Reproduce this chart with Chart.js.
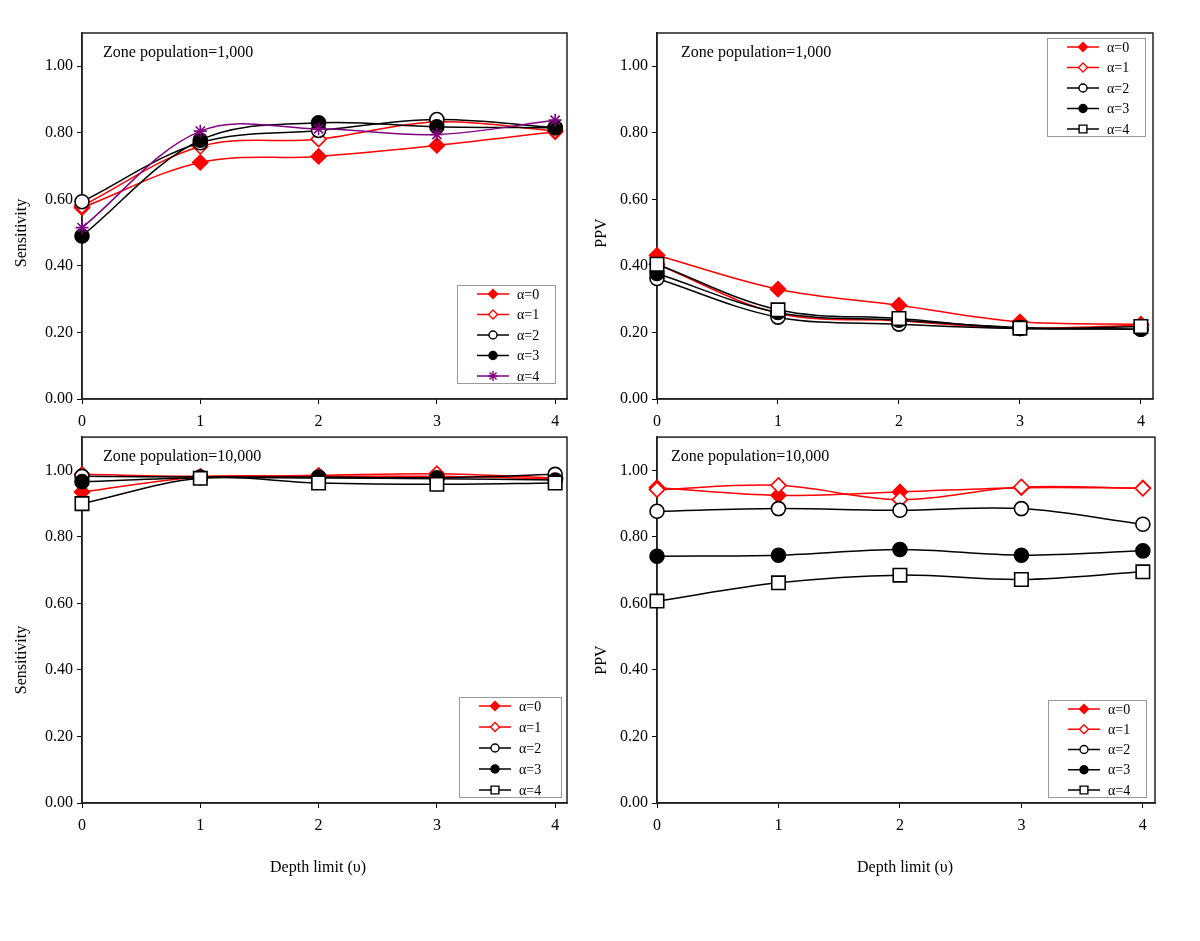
<!DOCTYPE html>
<html>
<head>
<meta charset="utf-8">
<script src="https://cdn.jsdelivr.net/npm/chart.js@4.4.1/dist/chart.umd.min.js"></script>
<style>
html,body{margin:0;padding:0;background:#fff;}
#wrap{position:relative;width:1200px;height:941px;overflow:hidden;background:#fff;}
canvas{position:absolute;}
</style>
</head>
<body>
<div id="wrap">
<canvas id="c1" width="600" height="435" style="left:0;top:0"></canvas>
<canvas id="c2" width="620" height="435" style="left:580px;top:0"></canvas>
<canvas id="c3" width="600" height="460" style="left:0;top:426px"></canvas>
<canvas id="c4" width="620" height="460" style="left:580px;top:426px"></canvas>
</div>
<script>
// ---------------- DATA ----------------
const depthLimits = [0, 1, 2, 3, 4];
const seriesLabels = ['α=0', 'α=1', 'α=2', 'α=3', 'α=4'];
const yTickValues = [0, 0.2, 0.4, 0.6, 0.8, 1.0];

// Sensitivity, zone population 1,000
const sens1000_a0 = [0.575, 0.711, 0.729, 0.762, 0.803];
const sens1000_a1 = [0.580, 0.759, 0.781, 0.833, 0.806];
const sens1000_a2 = [0.593, 0.770, 0.807, 0.840, 0.816];
const sens1000_a3 = [0.490, 0.778, 0.830, 0.818, 0.815];
const sens1000_a4 = [0.515, 0.805, 0.812, 0.795, 0.838];

// PPV, zone population 1,000
const ppv1000_a0 = [0.432, 0.330, 0.282, 0.232, 0.225];
const ppv1000_a1 = [0.405, 0.258, 0.235, 0.213, 0.222];
const ppv1000_a2 = [0.362, 0.246, 0.225, 0.212, 0.210];
const ppv1000_a3 = [0.377, 0.260, 0.237, 0.215, 0.210];
const ppv1000_a4 = [0.405, 0.268, 0.242, 0.213, 0.218];

// Sensitivity, zone population 10,000
const sens10000_a0 = [0.935, 0.980, 0.982, 0.982, 0.974];
const sens10000_a1 = [0.988, 0.982, 0.985, 0.990, 0.977];
const sens10000_a2 = [0.982, 0.980, 0.980, 0.978, 0.988];
const sens10000_a3 = [0.966, 0.978, 0.977, 0.975, 0.971];
const sens10000_a4 = [0.900, 0.976, 0.962, 0.958, 0.962];

// PPV, zone population 10,000
const ppv10000_a0 = [0.948, 0.925, 0.935, 0.948, 0.947];
const ppv10000_a1 = [0.942, 0.955, 0.912, 0.950, 0.946];
const ppv10000_a2 = [0.877, 0.885, 0.880, 0.885, 0.838];
const ppv10000_a3 = [0.742, 0.745, 0.762, 0.745, 0.758];
const ppv10000_a4 = [0.607, 0.662, 0.685, 0.672, 0.695];

// ---------------- STYLE ----------------
const FONT = "'Liberation Serif', 'Times New Roman', serif";
const RED = '#ff0000', BLACK = '#000000', PURPLE = '#800080';

const styleSquare = {color: BLACK, fill: '#ffffff', pointStyle: 'rect', r: 9.5, lr: 5.5};
const styleStar = {color: PURPLE, fill: PURPLE, pointStyle: 'star', r: 6.5, lr: 5};
const baseStyles = [
  {color: RED, fill: RED, pointStyle: 'rectRot', r: 7.5, lr: 4.5},
  {color: RED, fill: '#ffffff', pointStyle: 'rectRot', r: 7.5, lr: 4.5},
  {color: BLACK, fill: '#ffffff', pointStyle: 'circle', r: 7, lr: 4},
  {color: BLACK, fill: BLACK, pointStyle: 'circle', r: 7, lr: 4},
];

function makeDatasets(arrays, styles) {
  return arrays.map((vals, i) => {
    const s = styles[i];
    return {
      label: seriesLabels[i],
      data: depthLimits.map((x, j) => ({x: x, y: vals[j]})),
      borderColor: s.color,
      backgroundColor: s.fill,
      borderWidth: 1.5,
      pointStyle: s.pointStyle,
      pointRadius: s.r,
      pointHoverRadius: s.r,
      pointBackgroundColor: s.fill,
      pointBorderColor: s.color,
      pointBorderWidth: 1.6,
      tension: 0.35,
      clip: false,
      order: 4 - i,
      legendR: s.lr
    };
  });
}

function drawMarker(ctx, style, x, y, r, fill, stroke, lw) {
  ctx.save();
  ctx.lineWidth = lw; ctx.strokeStyle = stroke; ctx.fillStyle = fill;
  ctx.beginPath();
  if (style === 'rectRot') {
    ctx.moveTo(x, y - r); ctx.lineTo(x + r, y); ctx.lineTo(x, y + r); ctx.lineTo(x - r, y); ctx.closePath();
    ctx.fill(); ctx.stroke();
  } else if (style === 'circle') {
    ctx.arc(x, y, r, 0, Math.PI * 2); ctx.fill(); ctx.stroke();
  } else if (style === 'rect') {
    const s = r * Math.SQRT1_2; ctx.rect(x - s, y - s, 2 * s, 2 * s); ctx.fill(); ctx.stroke();
  } else if (style === 'star') {
    for (let k = 0; k < 4; k++) {
      const a = k * Math.PI / 4;
      ctx.moveTo(x - Math.cos(a) * r, y - Math.sin(a) * r);
      ctx.lineTo(x + Math.cos(a) * r, y + Math.sin(a) * r);
    }
    ctx.stroke();
  }
  ctx.restore();
}

const framePlugin = {
  id: 'frame',
  beforeDatasetsDraw(chart) {
    const {ctx, chartArea: a} = chart;
    ctx.save();
    ctx.strokeStyle = '#222'; ctx.lineWidth = 1.5;
    ctx.strokeRect(a.left, a.top, a.right - a.left, a.bottom - a.top);
    ctx.restore();
  }
};

const notePlugin = {
  id: 'panelNote',
  afterDraw(chart, args, o) {
    if (!o || !o.text) return;
    const {ctx, chartArea: a} = chart;
    ctx.save();
    ctx.font = '16px ' + FONT; ctx.fillStyle = '#000';
    ctx.textBaseline = 'middle'; ctx.textAlign = 'left';
    ctx.fillText(o.text, a.left + o.dx, a.top + o.dy);
    ctx.restore();
  }
};

const axisTitlePlugin = {
  id: 'axisTitles',
  afterDraw(chart, args, o) {
    const {ctx} = chart;
    ctx.save();
    ctx.font = '16px ' + FONT; ctx.fillStyle = '#000';
    ctx.textAlign = 'center'; ctx.textBaseline = 'middle';
    if (o.y) {
      ctx.save(); ctx.translate(o.y.x, o.y.y); ctx.rotate(-Math.PI / 2);
      ctx.fillText(o.y.text, 0, 0); ctx.restore();
    }
    if (o.x) ctx.fillText(o.x.text, o.x.x, o.x.y);
    ctx.restore();
  }
};

const boxLegendPlugin = {
  id: 'boxLegend',
  afterDatasetsDraw(chart, args, o) {
    if (!o || !o.w) return;
    const {ctx, chartArea: a} = chart;
    const bx = a.right - o.right - o.w;
    const by = (o.top !== undefined) ? a.top + o.top : a.bottom - o.bottom - o.h;
    ctx.save();
    ctx.fillStyle = '#fff'; ctx.fillRect(bx, by, o.w, o.h);
    ctx.strokeStyle = '#9a9a9a'; ctx.lineWidth = 1;
    ctx.strokeRect(bx + 0.5, by + 0.5, o.w, o.h);
    ctx.font = '14px ' + FONT; ctx.textBaseline = 'middle'; ctx.textAlign = 'left';
    const n = chart.data.datasets.length;
    const rowH = (o.h - 16) / (n - 1);
    chart.data.datasets.forEach((ds, i) => {
      const y = by + 9 + i * rowH;
      ctx.strokeStyle = ds.borderColor; ctx.lineWidth = 1.5;
      ctx.beginPath(); ctx.moveTo(bx + 20, y); ctx.lineTo(bx + 52, y); ctx.stroke();
      drawMarker(ctx, ds.pointStyle, bx + 36, y, ds.legendR, ds.pointBackgroundColor, ds.pointBorderColor, 1.4);
      ctx.fillStyle = '#000';
      ctx.fillText(ds.label, bx + 60, y + 1);
    });
    ctx.restore();
  }
};

function makeChart(id, datasets, cfg) {
  return new Chart(document.getElementById(id), {
    type: 'line',
    data: {datasets: datasets},
    plugins: [framePlugin, notePlugin, axisTitlePlugin, boxLegendPlugin],
    options: {
      responsive: false,
      animation: false,
      events: [],
      layout: {padding: {left: 0, top: cfg.padTop, right: cfg.padRight, bottom: 0}},
      plugins: {
        legend: {display: false},
        tooltip: {enabled: false},
        panelNote: cfg.note,
        axisTitles: cfg.titles,
        boxLegend: cfg.legend
      },
      scales: {
        x: {
          type: 'linear', min: 0, max: 4.1,
          afterFit: s => { s.height = cfg.xH; s.paddingLeft = 0; s.paddingRight = 0; },
          ticks: {stepSize: 1, includeBounds: false, padding: 8, color: '#000',
                  font: {family: FONT, size: 16}, callback: v => String(v)},
          grid: {display: true, drawOnChartArea: false, drawTicks: true, tickLength: 5, color: '#000', lineWidth: 1},
          border: {display: true, color: '#222', width: 1.5}
        },
        y: {
          type: 'linear', min: 0, max: 1.1,
          afterFit: s => { s.width = cfg.yW; s.paddingTop = 0; s.paddingBottom = 0; },
          afterBuildTicks: s => { s.ticks = yTickValues.map(v => ({value: v})); },
          ticks: {padding: 4, color: '#000', font: {family: FONT, size: 16},
                  callback: v => Number(v).toFixed(2)},
          grid: {display: true, drawOnChartArea: false, drawTicks: true, tickLength: 5, color: '#000', lineWidth: 1},
          border: {display: true, color: '#222', width: 1.5}
        }
      }
    }
  });
}

const stylesTL = baseStyles.concat([styleStar]);
const stylesOther = baseStyles.concat([styleSquare]);

makeChart('c1', makeDatasets([sens1000_a0, sens1000_a1, sens1000_a2, sens1000_a3, sens1000_a4], stylesTL), {
  padTop: 33, padRight: 33, xH: 36, yW: 82,
  note: {text: 'Zone population=1,000', dx: 21, dy: 20},
  titles: {y: {text: 'Sensitivity', x: 22, y: 233}},
  legend: {w: 98, h: 98, right: 12, bottom: 16}
});
makeChart('c2', makeDatasets([ppv1000_a0, ppv1000_a1, ppv1000_a2, ppv1000_a3, ppv1000_a4], stylesOther), {
  padTop: 33, padRight: 47, xH: 36, yW: 77,
  note: {text: 'Zone population=1,000', dx: 24, dy: 20},
  titles: {y: {text: 'PPV', x: 22, y: 233}},
  legend: {w: 98, h: 98, right: 8, top: 5}
});
makeChart('c3', makeDatasets([sens10000_a0, sens10000_a1, sens10000_a2, sens10000_a3, sens10000_a4], stylesOther), {
  padTop: 2, padRight: 33, xH: 83, yW: 82,
  note: {text: 'Zone population=10,000', dx: 21, dy: 20},
  titles: {y: {text: 'Sensitivity', x: 22, y: 234}, x: {text: 'Depth limit (υ)', x: 318, y: 442}},
  legend: {w: 102, h: 100, right: 6, bottom: 6}
});
makeChart('c4', makeDatasets([ppv10000_a0, ppv10000_a1, ppv10000_a2, ppv10000_a3, ppv10000_a4], stylesOther), {
  padTop: 2, padRight: 45, xH: 83, yW: 77,
  note: {text: 'Zone population=10,000', dx: 14, dy: 20},
  titles: {y: {text: 'PPV', x: 22, y: 234}, x: {text: 'Depth limit (υ)', x: 325, y: 442}},
  legend: {w: 98, h: 97, right: 9, bottom: 6}
});
</script>
</body>
</html>
